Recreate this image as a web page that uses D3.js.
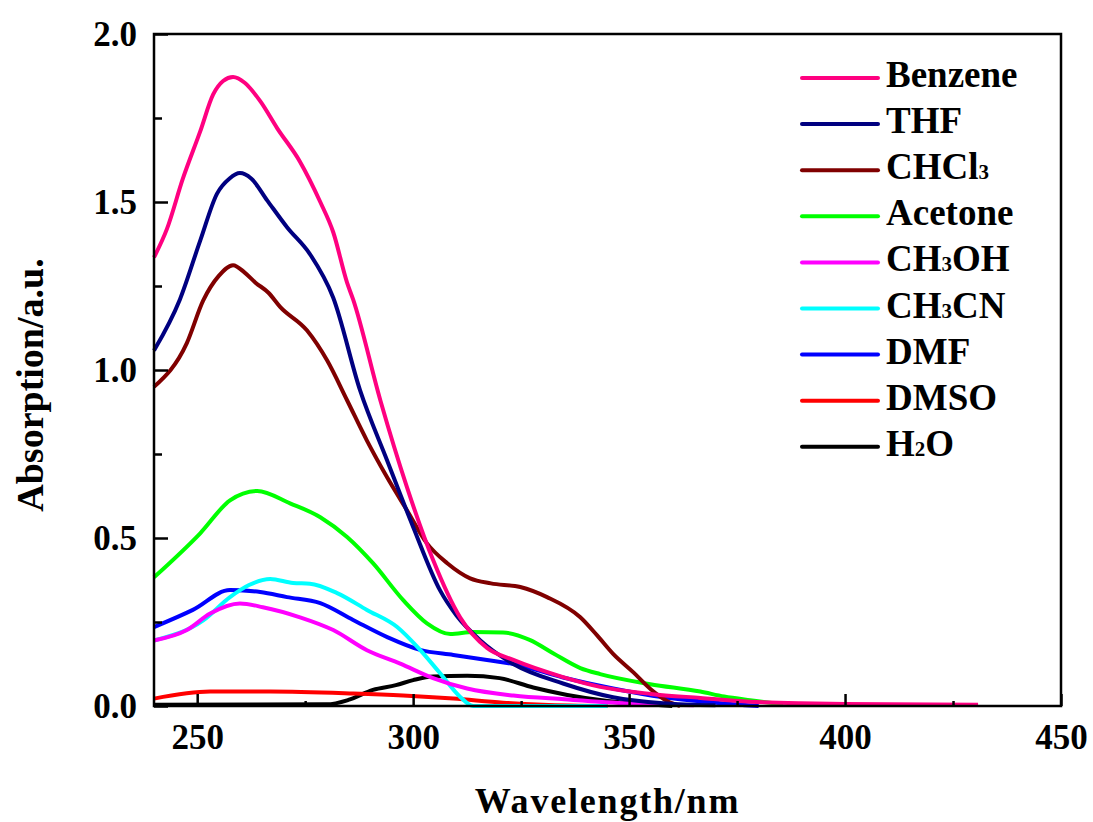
<!DOCTYPE html>
<html>
<head>
<meta charset="utf-8">
<script src="https://cdn.jsdelivr.net/npm/d3@7"></script>
<style>
  html, body { margin: 0; padding: 0; background: #fff; }
  svg { display: block; }
  text { font-family: "Liberation Serif", "Times New Roman", serif; font-weight: bold; fill: #000; }
</style>
</head>
<body>
<svg id="chart" width="1093" height="822"></svg>
<script>
// spectra: [wavelength nm, absorption]
var benzene = [[240,1.335],[243,1.42],[246.7,1.57],[250.7,1.71],[253.7,1.82],[256,1.86],[258.3,1.872],
  [261,1.855],[264.6,1.80],[268.5,1.72],[273.8,1.62],[278.5,1.50],[281.5,1.41],[284.7,1.26],[286.1,1.21],
  [292.4,0.91],[298.6,0.65],[304.6,0.435],[310.9,0.263],[317.1,0.173],[323.2,0.137],[334.7,0.086],
  [343.3,0.057],[355,0.036],[366.5,0.024],[378,0.013],[389.6,0.008],[400,0.006],[430.8,0.004]];
var thf = [[240,1.058],[246,1.21],[250.7,1.385],[254.6,1.525],[257.5,1.57],[259.9,1.586],[262.5,1.57],
  [266.2,1.505],[270.8,1.425],[276.1,1.345],[281.5,1.215],[287.7,0.94],[294,0.73],[300,0.533],
  [306.2,0.345],[310,0.27],[315.5,0.196],[323.2,0.125],[334.7,0.067],[346.3,0.026],[357.9,0.008],[370,0.002]];
var chcl3 = [[240,0.95],[247.6,1.08],[251.4,1.207],[255,1.28],[258.3,1.312],[261,1.29],[263.5,1.26],
  [266.5,1.23],[269.2,1.188],[275.4,1.118],[280.1,1.028],[284.7,0.91],[289.3,0.79],[294,0.68],
  [298.6,0.582],[303.2,0.484],[307.9,0.425],[313.2,0.38],[318,0.365],[324.8,0.354],[331,0.324],
  [338.7,0.264],[342.6,0.21],[346.3,0.155],[351,0.10],[355,0.05],[358.8,0.015],[361.8,0]];
var acetone = [[240,0.383],[250.7,0.514],[257.6,0.612],[263.9,0.64],[271.5,0.603],[278.5,0.562],
  [284.7,0.503],[290.7,0.425],[297.7,0.315],[303.2,0.246],[308.6,0.214],[313.9,0.22],[320.8,0.219],
  [327.1,0.196],[332.4,0.157],[338.7,0.113],[343.3,0.095],[354.9,0.065],[366.5,0.043],[372,0.028],
  [378,0.017],[385.7,0.005]];
var ch3oh = [[240,0.195],[247.6,0.226],[253,0.275],[259.9,0.305],[265.2,0.294],[273.8,0.264],
  [281.5,0.226],[289.3,0.166],[297,0.126],[304.6,0.083],[312.5,0.052],[323.2,0.031],[335,0.02],
  [350,0.008],[365,0.002]];
var ch3cn = [[240,0.195],[251.4,0.255],[257.6,0.324],[262,0.36],[266.9,0.378],[272.2,0.366],
  [276.1,0.364],[282.4,0.336],[289.3,0.286],[296.3,0.235],[301.6,0.167],[306.2,0.098],[310.9,0.027],
  [313.9,0],[345,0]];
var dmf = [[240,0.235],[249,0.286],[257.6,0.345],[264.6,0.339],[270.8,0.324],[278.5,0.306],
  [286.1,0.256],[294,0.205],[301.6,0.167],[309.3,0.152],[317.1,0.137],[323.2,0.125],[334.7,0.085],
  [346.3,0.052],[357.9,0.026],[370,0.01],[380,0]];
var dmso = [[240,0.022],[253,0.043],[266.9,0.043],[286.1,0.037],[297.7,0.031],[309.3,0.022],
  [320.8,0.01],[330,0.004],[345,0]];
var h2o = [[240,0.004],[280,0.005],[285,0.018],[290.7,0.048],[296,0.062],[300,0.077],[304.6,0.088],
  [312.5,0.09],[320,0.083],[327.8,0.055],[335.7,0.033],[345,0.015],[355,0.005],[360,0]];

var seriesNames = ['Benzene', 'THF', 'CHCl|3', 'Acetone', 'CH|3|OH', 'CH|3|CN', 'DMF', 'DMSO', 'H|2|O'];
var seriesData = [benzene, thf, chcl3, acetone, ch3oh, ch3cn, dmf, dmso, h2o];
var seriesColors = ['#ff0080', '#000080', '#800000', '#00ff00', '#ff00ff', '#00ffff', '#0000ff', '#ff0000', '#000000'];

var xTicks = [250, 300, 350, 400, 450];
var yTicks = [0, 0.5, 1.0, 1.5, 2.0];

(function () {
  'use strict';

  var margin = {top: 34, right: 32, bottom: 116, left: 154};
  var width = 1093 - margin.left - margin.right,
      height = 822 - margin.top - margin.bottom;

  var svg = d3.select('#chart');
  var g = svg.append('g')
    .attr('transform', 'translate(' + margin.left + ',' + margin.top + ')');

  var x = d3.scaleLinear().domain([240, 450]).range([0, width]);
  var y = d3.scaleLinear().domain([0, 2]).range([height, 0]);

  // curves, last legend entry first so Benzene ends up on top
  var line = d3.line()
    .x(function(d) { return x(d[0]); })
    .y(function(d) { return y(d[1]); })
    .curve(d3.curveMonotoneX);

  var order = d3.range(seriesData.length).reverse();
  g.append('g').selectAll('path')
    .data(order)
    .enter()
    .append('path')
    .attr('d', function(i) { return line(seriesData[i]); })
    .attr('fill', 'none')
    .attr('stroke', function(i) { return seriesColors[i]; })
    .attr('stroke-width', 4)
    .attr('stroke-linejoin', 'round');

  // minor ticks
  g.append('g')
    .attr('transform', 'translate(0,' + height + ')')
    .call(d3.axisBottom(x).tickValues(d3.range(275, 450, 50)).tickSize(-5).tickFormat(''))
    .call(function(s) { s.select('.domain').remove(); });
  g.append('g')
    .call(d3.axisLeft(y).tickValues(d3.range(0.25, 2, 0.5)).tickSize(-8).tickFormat(''))
    .call(function(s) { s.select('.domain').remove(); });

  var xAxis = g.append('g')
    .attr('transform', 'translate(0,' + height + ')')
    .call(d3.axisBottom(x).tickValues(xTicks).tickSizeInner(-12).tickSizeOuter(0).tickPadding(18)
      .tickFormat(d3.format('d')));
  xAxis.select('.domain').remove();
  xAxis.selectAll('text').attr('font-size', 35).attr('font-family', null);

  var yAxis = g.append('g')
    .call(d3.axisLeft(y).tickValues(yTicks).tickSizeInner(-14).tickSizeOuter(0).tickPadding(17)
      .tickFormat(d3.format('.1f')));
  yAxis.select('.domain').remove();
  yAxis.selectAll('text').attr('font-size', 35).attr('font-family', null);

  g.selectAll('.tick line').attr('stroke', '#000').attr('stroke-width', 2.5);

  // frame
  g.append('rect')
    .attr('width', width)
    .attr('height', height)
    .attr('fill', 'none')
    .attr('stroke', '#000')
    .attr('stroke-width', 2.5);

  // axis titles
  svg.append('text')
    .attr('x', margin.left + width / 2)
    .attr('y', 813)
    .attr('text-anchor', 'middle')
    .attr('font-size', 36)
    .attr('letter-spacing', 1.8)
    .text('Wavelength/nm');

  svg.append('text')
    .attr('transform', 'translate(43,385) rotate(-90)')
    .attr('text-anchor', 'middle')
    .attr('font-size', 38)
    .text('Absorption/a.u.');

  // legend
  var legend = svg.append('g').attr('transform', 'translate(802,78)');
  var rows = legend.selectAll('g')
    .data(seriesNames)
    .enter()
    .append('g')
    .attr('transform', function(d, i) { return 'translate(0,' + (i * 46.1) + ')'; });

  rows.append('line')
    .attr('x1', 0).attr('x2', 76)
    .attr('stroke', function(d, i) { return seriesColors[i]; })
    .attr('stroke-width', 4)
    .attr('stroke-linecap', 'round');

  rows.append('text')
    .attr('x', 84)
    .attr('y', 9)
    .attr('font-size', 37)
    .each(function(d) {
      var t = d3.select(this);
      d.split('|').forEach(function(part, k) {
        var span = t.append('tspan').text(part);
        if (k % 2 === 1) { span.attr('font-size', 21); }
      });
    });
})();
</script>
</body>
</html>
